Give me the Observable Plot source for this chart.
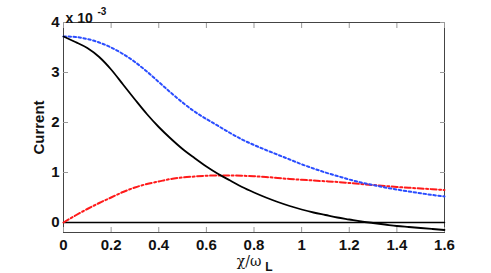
<!DOCTYPE html>
<html><head><meta charset="utf-8">
<script src="https://cdn.jsdelivr.net/npm/d3@7"></script>
<script src="https://cdn.jsdelivr.net/npm/@observablehq/plot@0.6"></script>
<style>body{margin:0;background:#fff}</style>
</head><body><div id="chart"></div>
<script>
const chi = [0,0.05,0.1,0.15,0.2,0.25,0.3,0.35,0.4,0.45,0.5,0.55,0.6,0.65,0.7,0.75,0.8,0.85,0.9,0.95,1.0,1.05,1.1,1.15,1.2,1.25,1.3,1.35,1.4,1.45,1.5,1.55,1.6];
const blackCurrent = [3.72,3.61,3.49,3.31,3.06,2.76,2.46,2.17,1.91,1.68,1.47,1.29,1.12,0.97,0.84,0.71,0.60,0.50,0.41,0.33,0.26,0.20,0.15,0.10,0.06,0.02,-0.01,-0.04,-0.07,-0.09,-0.11,-0.13,-0.15];
const blueCurrent  = [3.72,3.71,3.67,3.60,3.50,3.37,3.21,3.02,2.81,2.60,2.40,2.22,2.07,1.93,1.79,1.66,1.55,1.45,1.355,1.26,1.165,1.08,1.00,0.93,0.86,0.80,0.75,0.70,0.66,0.62,0.585,0.55,0.52];
const redCurrent   = [0,0.14,0.27,0.39,0.50,0.61,0.70,0.77,0.82,0.87,0.90,0.92,0.935,0.94,0.94,0.935,0.925,0.91,0.89,0.87,0.855,0.84,0.825,0.81,0.79,0.77,0.75,0.73,0.71,0.695,0.68,0.665,0.65];
const zeroLine = [0,0];
const zeroX = [0,1.6];
const xTicks = [0,0.2,0.4,0.6,0.8,1,1.2,1.4,1.6];
const yTicks = [0,1,2,3,4];
const yLabel = "Current";
const xLabel = "χ/ω";
const xLabelSub = "L";
const multiplier = "x 10";
const multiplierExp = "-3";

const black = chi.map((x,i)=>({x, y: blackCurrent[i]}));
const blue = chi.map((x,i)=>({x, y: blueCurrent[i]}));
const red = chi.map((x,i)=>({x, y: redCurrent[i]}));
const zero = zeroX.map((x,i)=>({x, y: zeroLine[i]}));

const font = "Liberation Sans, Arial, sans-serif";
const chart = Plot.plot({
  width: 491, height: 273,
  marginLeft: 63, marginRight: 47, marginTop: 22, marginBottom: 41,
  style: {fontFamily: font, fontSize: "15px", fontWeight: "bold", background: "#fff", color: "#111"},
  x: {domain: [0,1.6]},
  y: {domain: [-0.2,4]},
  marks: [
    Plot.frame({stroke: "#444", strokeWidth: 1}),
    Plot.axisX({ticks: xTicks, tickSize: -5, tickPadding: 12, label: null, stroke: "#999", tickFormat: d => String(d)}),
    Plot.axisX({anchor: "top", ticks: xTicks, tickSize: -5, label: null, stroke: "#999", tickFormat: () => ""}),
    Plot.axisY({ticks: yTicks, tickSize: -5, tickPadding: 9, label: null, stroke: "#999", tickFormat: d => String(d)}),
    Plot.axisY({anchor: "right", ticks: yTicks, tickSize: -5, label: null, stroke: "#999", tickFormat: () => ""}),
    Plot.line(zero, {x: "x", y: "y", stroke: "#000", strokeWidth: 1.5}),
    Plot.line(red, {x: "x", y: "y", curve: "monotone-x", stroke: "#ff1a1a", strokeWidth: 2, strokeDasharray: "6,2.5,2,2.5"}),
    Plot.line(blue, {x: "x", y: "y", curve: "monotone-x", stroke: "#2a4dff", strokeWidth: 2, strokeDasharray: "2.5,2.5"}),
    Plot.line(black, {x: "x", y: "y", curve: "monotone-x", stroke: "#000", strokeWidth: 1.8}),
    Plot.text([yLabel], {frameAnchor: "left", dx: -20, rotate: -90, fontWeight: "bold", fontSize: 15, textAnchor: "middle", lineAnchor: "bottom"}),
    Plot.text([xLabel], {frameAnchor: "bottom", dy: 33, dx: -5, fontWeight: "normal", fontFamily: "DejaVu Serif, serif", fontSize: 14, textAnchor: "middle"}),
    Plot.text([xLabelSub], {frameAnchor: "bottom", dy: 38, dx: 15, fontWeight: "bold", fontSize: 12, textAnchor: "middle"}),
    Plot.text([multiplier], {frameAnchor: "top-left", dx: 2, dy: -9, fontWeight: "bold", fontSize: 14, textAnchor: "start"}),
    Plot.text([multiplierExp], {frameAnchor: "top-left", dx: 34, dy: -15, fontWeight: "bold", fontSize: 10, textAnchor: "start"})
  ]
});
document.getElementById("chart").appendChild(chart);
</script>
</body></html>
